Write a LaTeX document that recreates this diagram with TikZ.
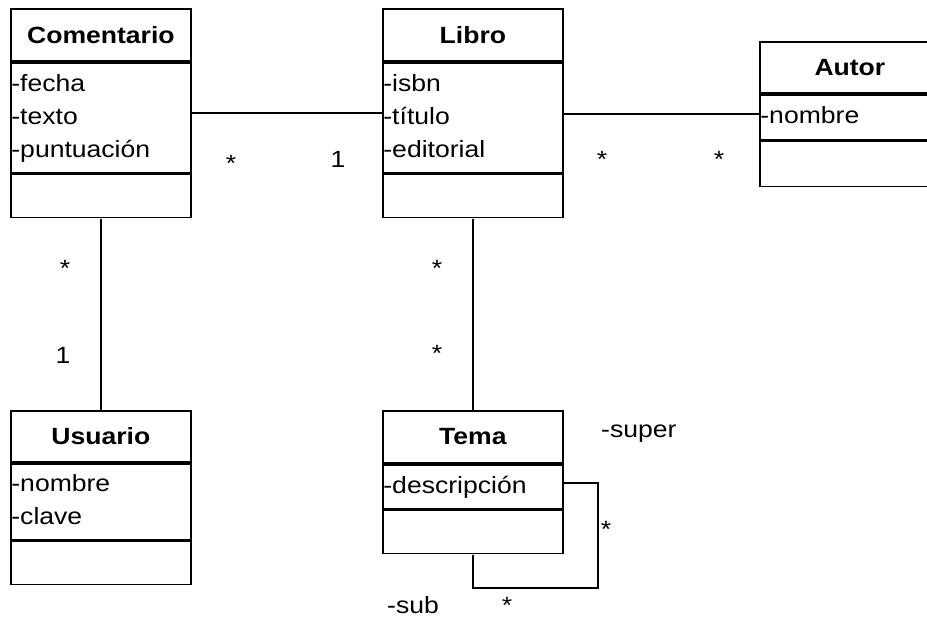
\documentclass[tikz,border=0pt]{standalone}
\usepackage{fontspec}
\setmainfont{Liberation Sans}[FakeStretch=1.13]
\usetikzlibrary{positioning,fit}

\newcommand{\umlfont}{\fontsize{23.5}{33}\selectfont}

\tikzset{
  clase/.style={draw, line width=1.8pt, minimum width=180pt, inner sep=0pt, font=\umlfont},
  cabecera/.style={clase, minimum height=#1, font=\umlfont\bfseries},
  atributos/.style={clase, minimum height=#1, text width=179pt, inner xsep=0.5pt, align=left},
  metodos/.style={clase, minimum height=#1},
  marco/.style={inner sep=0pt, fit=#1},
  mult/.style={font=\umlfont, inner sep=0pt, anchor=base},
  enlace/.style={line width=1.8pt}
}

\begin{document}
\begin{tikzpicture}[x=1pt, y=-1pt]
  \useasboundingbox (0,0) rectangle (927,619);
  \clip (0,0) rectangle (927,619);

	%# CLASE COMENTARIO
  \node[cabecera=52pt, anchor=north west] (comCab) at (10,8) {Comentario};
  \node[atributos=110pt, below=0pt of comCab] (comAtr) {\strut-fecha\\\strut-texto\\\strut-puntuación};
  \node[metodos=43pt, below=0pt of comAtr] (comMet) {};
  \node[marco={(comCab)(comMet)}] (com) {};

	%# CLASE LIBRO
  \node[cabecera=52pt, anchor=north west] (libCab) at (382,8) {Libro};
  \node[atributos=110pt, below=0pt of libCab] (libAtr) {\strut-isbn\\\strut-título\\\strut-editorial};
  \node[metodos=43pt, below=0pt of libAtr] (libMet) {};
  \node[marco={(libCab)(libMet)}] (lib) {};

	%# CLASE AUTOR
  \node[cabecera=51pt, anchor=north west] (autCab) at (759,41) {Autor};
  \node[atributos=45pt, below=0pt of autCab] (autAtr) {\strut-nombre};
  \node[metodos=45pt, below=0pt of autAtr] (autMet) {};
  \node[marco={(autCab)(autMet)}] (aut) {};

	%# CLASE USUARIO
  \node[cabecera=51pt, anchor=north west] (usuCab) at (10,410) {Usuario};
  \node[atributos=76pt, below=0pt of usuCab] (usuAtr) {\strut-nombre\\\strut-clave};
  \node[metodos=43pt, below=0pt of usuAtr] (usuMet) {};
  \node[marco={(usuCab)(usuMet)}] (usu) {};

	%# CLASE TEMA
  \node[cabecera=52pt, anchor=north west] (temCab) at (382,410) {Tema};
  \node[atributos=44pt, below=0pt of temCab] (temAtr) {\strut-descripción};
  \node[metodos=43pt, below=0pt of temAtr] (temMet) {};
  \node[marco={(temCab)(temMet)}] (tem) {};

	%# ASOCIACIONES
  \draw[enlace] (com) -- (lib);
  \draw[enlace] (lib.east |- aut.west) -- (aut.west);
  \draw[enlace] (com) -- (usu);
  \draw[enlace] (lib) -- (tem);
  \coordinate (lazo) at (598,588);
  \draw[enlace] ([yshift=4pt]temAtr.east) -| (lazo) -| (tem.south);

	%# MULTIPLICIDADES
  \node[mult] (mComLib1) at (231,171) {*};
  \node[mult] (mComLib2) at (338,167) {1};
  \node[mult] (mLibAut1) at (602,167) {*};
  \node[mult] (mLibAut2) at (719,167) {*};
  \node[mult] (mComUsu1) at (65,276) {*};
  \node[mult] (mComUsu2) at (63,363) {1};
  \node[mult] (mLibTem1) at (437,276) {*};
  \node[mult] (mLibTem2) at (437,361) {*};
  \node[mult] (mTemSup) at (606,537) {*};
  \node[mult] (mTemSub) at (507,613) {*};

	%# ROLES
  \node[mult, anchor=base west] (rolSuper) at (601,437) {-super};
  \node[mult, anchor=base west] (rolSub) at (387,613) {-sub};
\end{tikzpicture}
\end{document}
